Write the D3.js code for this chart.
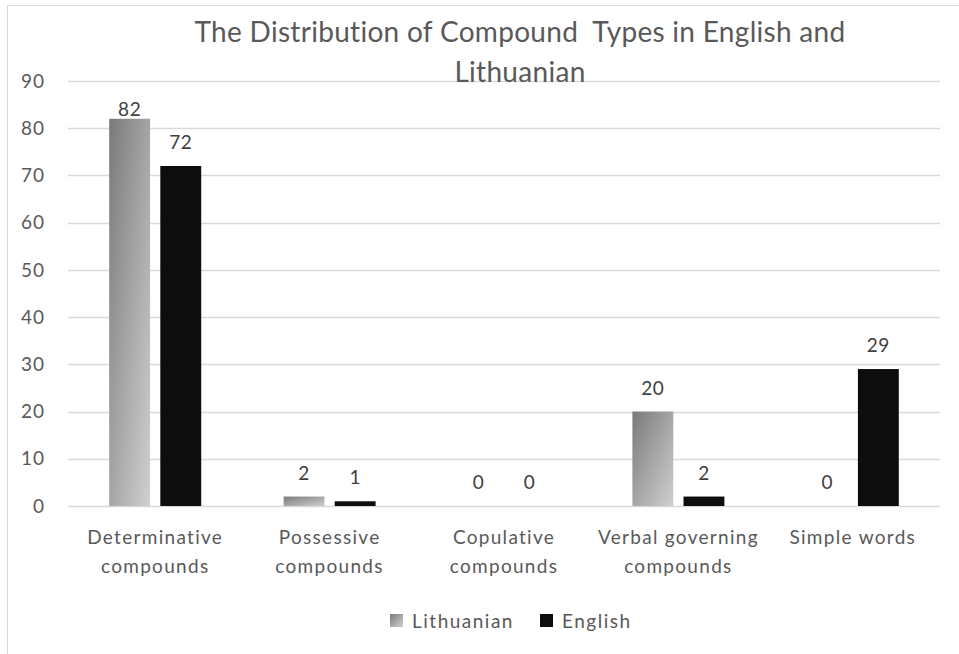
<!DOCTYPE html>
<html><head><meta charset="utf-8">
<script src="https://cdn.jsdelivr.net/npm/d3@7"></script>
<style>body{margin:0;background:#fff}svg{display:block}</style>
</head><body>
<svg id="c" width="959" height="654"></svg>
<script>
const categories = [["Determinative","compounds"],["Possessive","compounds"],["Copulative","compounds"],["Verbal governing","compounds"],["Simple words"]];
const catKeys = ["Determinative compounds","Possessive compounds","Copulative compounds","Verbal governing compounds","Simple words"];
const seriesNames = ["Lithuanian","English"];
const lithuanian = [82,2,0,20,0];
const english = [72,1,0,2,29];
const yTicks = [0,10,20,30,40,50,60,70,80,90];
const titleLines = ["The Distribution of Compound  Types in English and","Lithuanian"];

const svg = d3.select("#c");
const font = "Lato, 'Open Sans', sans-serif";
const txt = "#595959";

const defs = svg.append("defs");
const g1 = defs.append("linearGradient").attr("id","gl").attr("x1","0").attr("y1","0").attr("x2","1").attr("y2","1");
g1.append("stop").attr("offset","0").attr("stop-color","#7a7a7a");
g1.append("stop").attr("offset","1").attr("stop-color","#d0d0d0");

svg.append("rect").attr("x",7.5).attr("y",5.5).attr("width",1100).attr("height",700)
  .attr("fill","#fff").attr("stroke","#d9d9d9");

const x0 = d3.scaleBand().domain(catKeys).range([68,940]);
const x1 = d3.scaleBand().domain(seriesNames).range([0,92]).paddingInner(0.2);
const y = d3.scaleLinear().domain([0,90]).range([506,81]);

// grid
svg.append("g").selectAll("line").data(yTicks).join("line")
  .attr("x1",68).attr("x2",940).attr("y1",d=>Math.round(y(d))+0.5).attr("y2",d=>Math.round(y(d))+0.5)
  .attr("stroke","#d9d9d9").attr("stroke-width",1.3);

// y labels
svg.append("g").selectAll("text").data(yTicks).join("text")
  .attr("x",45).attr("y",d=>y(d)).attr("dy","0.35em").attr("text-anchor","end")
  .attr("font-family",font).attr("font-size",19).attr("letter-spacing",1).attr("fill",txt).text(d=>d);

const data = catKeys.map((k,i)=>({k, vals:[{s:"Lithuanian",v:lithuanian[i]},{s:"English",v:english[i]}]}));
const grp = svg.append("g").selectAll("g").data(data).join("g")
  .attr("transform",d=>`translate(${x0(d.k)+x0.bandwidth()/2-46},0)`);
grp.selectAll("rect").data(d=>d.vals).join("rect")
  .attr("x",d=>x1(d.s)).attr("width",x1.bandwidth())
  .attr("y",d=>y(d.v)).attr("height",d=>y(0)-y(d.v))
  .attr("fill",d=>d.s==="Lithuanian"?"url(#gl)":"#0d0d0d");
grp.selectAll("text").data(d=>d.vals).join("text")
  .attr("x",d=>x1(d.s)+x1.bandwidth()/2).attr("y",d=>Math.max(y(d.v)-17,116))
  .attr("text-anchor","middle").attr("font-family",font).attr("font-size",19).attr("letter-spacing",0.5).attr("fill","#404040")
  .text(d=>d.v);

// category labels
const cl = svg.append("g").selectAll("text").data(categories).join("text")
  .attr("text-anchor","middle").attr("font-family",font).attr("font-size",19).attr("letter-spacing",1.3).attr("fill",txt)
  .attr("transform",(d,i)=>`translate(${x0(catKeys[i])+x0.bandwidth()/2},544)`);
cl.selectAll("tspan").data(d=>d).join("tspan").attr("x",0).attr("y",(d,i)=>i*29).text(d=>d);

// title
svg.append("g").selectAll("text").data(titleLines).join("text")
  .attr("x",520).attr("y",(d,i)=>42+i*40).attr("text-anchor","middle")
  .style("white-space","pre")
  .attr("font-family",font).attr("font-size",28).attr("letter-spacing",0.3).attr("fill",txt).text(d=>d);

// legend
const leg = svg.append("g").selectAll("g").data(seriesNames).join("g")
  .attr("transform",(d,i)=>`translate(${i===0?390:540},614)`);
leg.append("rect").attr("width",13).attr("height",13).attr("fill",d=>d==="Lithuanian"?"url(#gl)":"#0d0d0d");
leg.append("text").attr("x",22).attr("y",7).attr("dy","0.35em")
  .attr("font-family",font).attr("font-size",19).attr("letter-spacing",1.5).attr("fill",txt).text(d=>d);
</script>
</body></html>
